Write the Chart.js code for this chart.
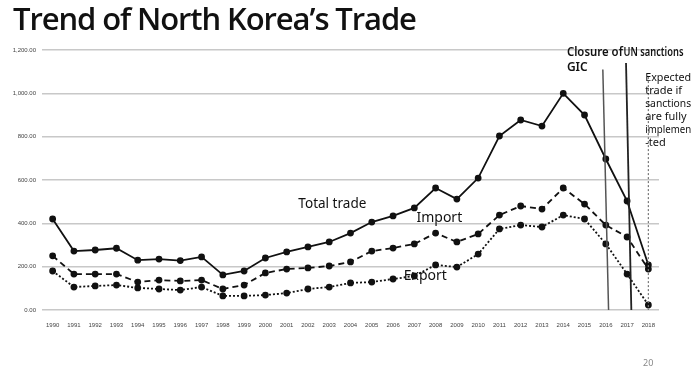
<!DOCTYPE html>
<html>
<head>
<meta charset="utf-8">
<script src="https://cdn.jsdelivr.net/npm/chart.js@4"></script>
<style>
  html, body { margin: 0; padding: 0; background: #fff; }
  #wrap { position: relative; width: 693px; height: 372px; }
  #title { position: absolute; left: 13px; top: -3px; font: 600 31px "Open Sans", sans-serif; color: #111; letter-spacing: -1.1px; }
  #page { position: absolute; left: 643px; top: 356px; font: 9px "Noto Sans", sans-serif; color: #888; }
  canvas { position: absolute; left: 0; top: 0; }
</style>
</head>
<body>
<div id="wrap">
  <canvas id="tradeChart" width="693" height="372"></canvas>
  <div id="title">Trend of North Korea’s Trade</div>
  <div id="page">20</div>
</div>
<script>
const years = ['1990','1991','1992','1993','1994','1995','1996','1997','1998','1999',
  '2000','2001','2002','2003','2004','2005','2006','2007','2008','2009',
  '2010','2011','2012','2013','2014','2015','2016','2017','2018'];

const totalTrade = [420, 272, 277, 285, 230, 235, 228, 245, 162, 180,
  240, 268, 291, 314, 355, 406, 434, 471, 563, 512,
  609, 803, 877, 849, 1000, 900, 697, 503, 208];

const imports = [250, 166, 166, 166, 129, 138, 134, 138, 97, 115,
  171, 189, 194, 203, 222, 272, 286, 305, 355, 314,
  351, 438, 480, 466, 563, 489, 392, 337, 189];

const exports = [180, 106, 111, 115, 102, 97, 92, 106, 65, 65,
  69, 78, 97, 106, 125, 129, 143, 157, 208, 198,
  258, 374, 392, 383, 438, 420, 305, 166, 23];

const yTicks = [0, 200, 400, 600, 800, 1000, 1200];

// event markers: x in category units (top, bottom), top value
const markers = [
  { xTop: 25.86, xBottom: 26.13, top: 1110, color: '#555', width: 1.5, dash: [] },
  { xTop: 26.95, xBottom: 27.2, top: 1140, color: '#222', width: 1.8, dash: [] },
  { xTop: 28, xBottom: 28, top: 1075, color: '#777', width: 1.2, dash: [2, 2] }
];

// text notes anchored to category index / value, squeezed to maxW
const notes = [
  { text: 'Total trade', x: 11.55, y: 488, size: 14, weight: 'normal', maxW: 68 },
  { text: 'Import', x: 17.1, y: 425, size: 14, weight: 'normal', maxW: 60 },
  { text: 'Export', x: 16.5, y: 155, size: 14, weight: 'normal', maxW: 44 },
  { text: 'Closure of', x: 24.17, y: 1186, size: 12, weight: '600', maxW: 56 },
  { text: 'GIC', x: 24.17, y: 1121, size: 12, weight: '600', maxW: 22 },
  { text: 'UN sanctions', x: 26.83, y: 1186, size: 12, weight: '600', maxW: 60 }
];

const expectedNote = ['Expected', 'trade if', 'sanctions', 'are fully', 'implemen', '-ted'];

const overlay = {
  id: 'overlay',
  afterDatasetsDraw(chart) {
    const { ctx, scales: { x, y } } = chart;
    const px = v => x.left + (x.right - x.left) * (v + 0.5) / years.length;
    ctx.save();
    markers.forEach(m => {
      ctx.beginPath();
      ctx.strokeStyle = m.color;
      ctx.lineWidth = m.width;
      ctx.setLineDash(m.dash);
      ctx.moveTo(px(m.xTop), y.getPixelForValue(m.top));
      ctx.lineTo(px(m.xBottom), y.bottom);
      ctx.stroke();
    });
    ctx.setLineDash([]);
    ctx.fillStyle = '#111';
    ctx.textBaseline = 'middle';
    notes.forEach(n => {
      ctx.font = `${n.weight} ${n.size}px "Noto Sans", sans-serif`;
      ctx.fillText(n.text, px(n.x), y.getPixelForValue(n.y), n.maxW);
    });
    ctx.font = '11px "Noto Sans", sans-serif';
    expectedNote.forEach((line, i) => {
      ctx.fillText(line, px(27.85), y.getPixelForValue(1075) + 1 + i * 13, 46);
    });
    ctx.restore();
  }
};

const lineStyle = (label, data, dash) => ({
  label,
  data,
  borderColor: '#111',
  backgroundColor: '#111',
  borderWidth: 1.8,
  borderDash: dash,
  pointRadius: 2.5,
  pointHoverRadius: 2.5,
  tension: 0
});

new Chart(document.getElementById('tradeChart').getContext('2d'), {
  type: 'line',
  data: {
    labels: years,
    datasets: [
      lineStyle('Total trade', totalTrade, []),
      lineStyle('Import', imports, [6, 4]),
      lineStyle('Export', exports, [2, 2])
    ]
  },
  options: {
    responsive: false,
    animation: false,
    layout: { padding: { top: 50, right: 34, bottom: 42, left: 0 } },
    plugins: { legend: { display: false }, tooltip: { enabled: false } },
    scales: {
      x: {
        offset: true,
        grid: { display: false },
        border: { display: false },
        ticks: { color: '#444', font: { size: 6 }, maxRotation: 0, autoSkip: false, padding: 4 },
        afterFit: s => { s.height = 20; }
      },
      y: {
        min: 0,
        max: 1200,
        afterBuildTicks: s => { s.ticks = yTicks.map(v => ({ value: v })); },
        grid: { color: '#c8c8c8', lineWidth: 1.5, drawTicks: false },
        border: { display: false },
        ticks: {
          color: '#444',
          font: { size: 6 },
          padding: 6,
          callback: v => v.toLocaleString('en-US', { minimumFractionDigits: 2, maximumFractionDigits: 2 })
        },
        afterFit: s => { s.width = 42; }
      }
    }
  },
  plugins: [overlay]
});
</script>
</body>
</html>
